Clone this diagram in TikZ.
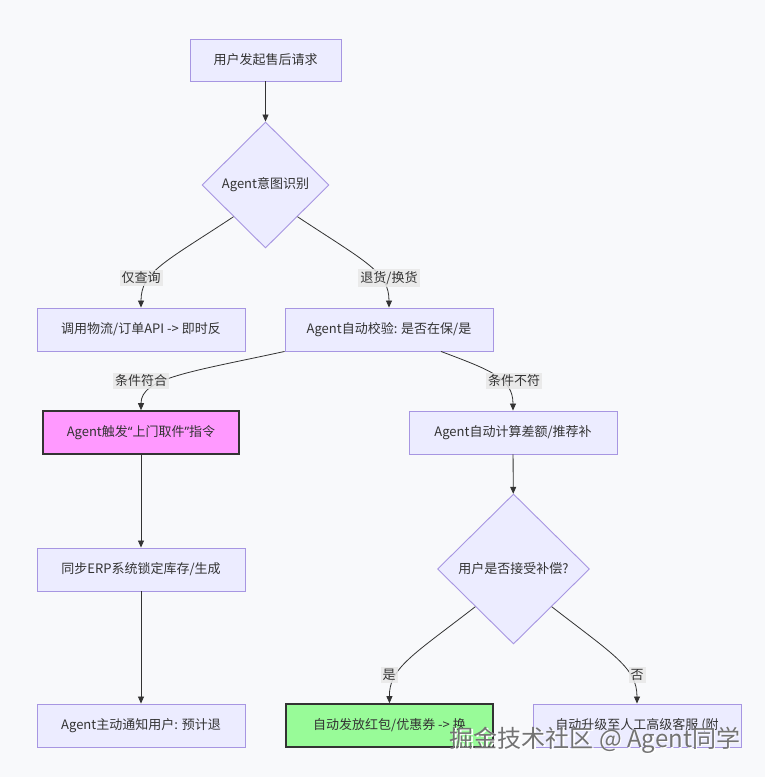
\documentclass[tikz,border=0pt]{standalone}
\usepackage{fontspec}
\setmainfont{Noto Sans CJK SC}
\newfontfamily\latinf{Noto Sans}
\usetikzlibrary{shapes.geometric,arrows.meta}
\definecolor{bgc}{HTML}{F8F9FB}
\definecolor{boxfill}{HTML}{ECECFF}
\definecolor{boxline}{HTML}{A796E2}
\definecolor{edgec}{HTML}{333333}
\definecolor{pinkf}{HTML}{FF99FF}
\definecolor{greenf}{HTML}{98FB98}
\definecolor{lblf}{HTML}{E8E8E8}
\tikzset{
  txt/.style={font=\fontsize{13}{15}\selectfont, text=edgec},
  box/.style={txt, rectangle, draw=boxline, fill=boxfill, line width=0.9pt, minimum width=208pt, minimum height=43pt, inner sep=0pt},
  pinkbox/.style={box, fill=pinkf, draw=edgec, line width=1.6pt, minimum width=196pt},
  greenbox/.style={box, fill=greenf, draw=edgec, line width=1.6pt, minimum width=207pt},
  dec/.style={txt, diamond, aspect=1, draw=boxline, fill=boxfill, line width=0.9pt, inner sep=0pt},
  edge/.style={draw=edgec, line width=0.8pt, -{Triangle[length=7pt,width=6pt]}},
  lbl/.style={txt, fill=lblf, fill opacity=0.85, text opacity=1, inner sep=2pt},
}
\begin{document}
\begin{tikzpicture}[x=1pt,y=-1pt]
\fill[bgc] (0,0) rectangle (765,777);
\useasboundingbox (0,0) rectangle (765,777);

\node[box, minimum width=151pt, minimum height=42pt] (n1) at (265.5,60) {用户发起售后请求};
\node[dec, minimum width=127pt, minimum height=126pt] (d1) at (265.5,185) {Agent意图识别};
\node[box] (n3) at (141,329.5) {调用物流/订单API -> 即时反};
\node[box] (n4) at (389,329.5) {Agent自动校验: 是否在保/是};
\node[pinkbox] (n5) at (141,432.5) {Agent触发{\latinf “}上门取件{\latinf ”}指令};
\node[box] (n6) at (513,432.5) {Agent自动计算差额/推荐补};
\node[dec, minimum width=152pt, minimum height=150pt] (d2) at (513.5,569) {用户是否接受补偿?};
\node[box] (n7) at (141,569.5) {同步ERP系统锁定库存/生成};
\node[box] (n8) at (141,725.5) {Agent主动通知用户: 预计退};
\node[greenbox] (n9) at (389.5,725.5) {自动发放红包/优惠券 -> 换};
\node[box] (n10) at (637,725.5) {自动升级至人工高级客服 (附};

\draw[edge] (n1) -- (d1);
\draw[edge] (d1.south west) .. controls (165,262) and (141,272) .. (n3.north);
\draw[edge] (d1.south east) .. controls (366,262) and (389,272) .. (n4.north);
\draw[edge] (n4.south west) .. controls (190,372) and (141,378) .. (n5.north);
\draw[edge] ([xshift=52pt]n4.south) .. controls (490,370) and (513,378) .. (n6.north);
\draw[edge] (n6) -- (d2);
\draw[edge] (n5) -- (n7);
\draw[edge] (n7) -- (n8);
\draw[edge] (d2.south west) .. controls (413,655) and (389,668) .. (n9.north);
\draw[edge] (d2.south east) .. controls (614,655) and (637,668) .. (n10.north);

\node[lbl] (l1) at (141,278) {仅查询};
\node[lbl] (l2) at (389,278) {退货/换货};
\node[lbl] (l3) at (141,381) {条件符合};
\node[lbl] (l4) at (514,381) {条件不符};
\node[lbl] (l5) at (389,675) {是};
\node[lbl] (l6) at (637,675) {否};

\node[font=\fontsize{24}{28}\selectfont, text=white] (wm0) at (596.5,741.5) {掘金技术社区 @ Agent同学};
\node[font=\fontsize{24}{28}\selectfont, text=black!55] (wm) at (595,740) {掘金技术社区 @ Agent同学};
\end{tikzpicture}
\end{document}
